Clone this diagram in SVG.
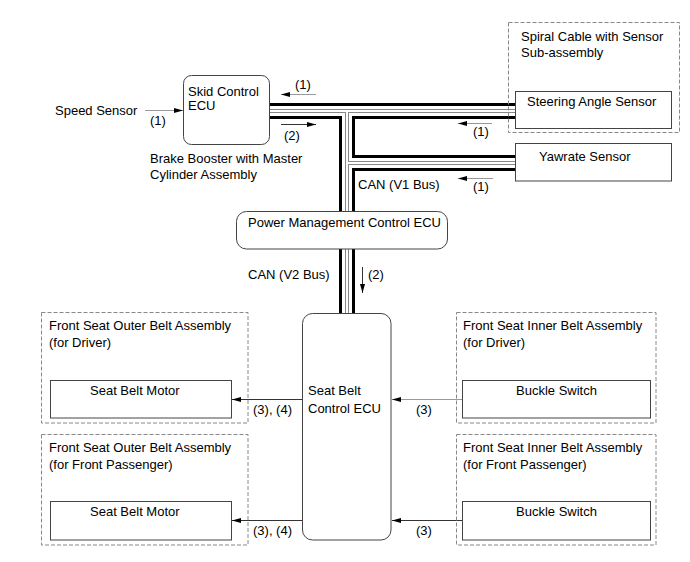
<svg xmlns="http://www.w3.org/2000/svg" xmlns:xlink="http://www.w3.org/1999/xlink" width="690" height="562" viewBox="0 0 690 562">
<style>
text{font-family:"Liberation Sans",Arial,sans-serif;font-size:13px;fill:#000}
.box{fill:#fff;stroke:#444;stroke-width:1}
.dash{fill:none;stroke:#888;stroke-width:1;stroke-dasharray:4 2}
.arL{stroke:#999;stroke-width:1;fill:none;marker-end:url(#ah)}
.arD{stroke:#333;stroke-width:1;fill:none;marker-end:url(#ah)}
</style>
<defs>
<marker id="ah" markerUnits="userSpaceOnUse" viewBox="0 0 9 6" refX="9" refY="3" markerWidth="9" markerHeight="6" orient="auto">
<path d="M0,0.5 L9,3 L0,5.5 z" fill="#000"/>
</marker>
<path id="bus" d="M270,111 H515 M347,111 V313 M347,163 H515" fill="none"/>
</defs>
<rect width="690" height="562" fill="#fff"/>
<g id="connectors">
<use xlink:href="#bus" stroke="#000" stroke-width="16"/>
<use xlink:href="#bus" stroke="#fff" stroke-width="10"/>
<use xlink:href="#bus" stroke="#888" stroke-width="4"/>
<use xlink:href="#bus" stroke="#fff" stroke-width="2"/>
<line class="arL" x1="145" y1="110.5" x2="183" y2="110.5"/>
<line class="arL" x1="316" y1="94.5" x2="281" y2="94.5"/>
<line class="arD" x1="281" y1="124.5" x2="316" y2="124.5"/>
<line class="arL" x1="492" y1="123.5" x2="458" y2="123.5"/>
<line class="arL" x1="493" y1="178.5" x2="458" y2="178.5"/>
<line class="arD" x1="362.5" y1="267" x2="362.5" y2="293"/>
<line class="arD" x1="302" y1="399.5" x2="232" y2="399.5"/>
<line class="arL" x1="462" y1="399.5" x2="392" y2="399.5"/>
<line class="arD" x1="302" y1="520.5" x2="232" y2="520.5"/>
<line class="arD" x1="462" y1="520.5" x2="392" y2="520.5"/>
<text x="55" y="115">Speed Sensor</text>
<text x="150" y="125">(1)</text>
<text x="295" y="89">(1)</text>
<text x="284" y="140">(2)</text>
<text x="473" y="136">(1)</text>
<text x="358" y="189">CAN (V1 Bus)</text>
<text x="473" y="191">(1)</text>
<text x="248" y="279">CAN (V2 Bus)</text>
<text x="368" y="279">(2)</text>
<text x="253" y="414">(3), (4)</text>
<text x="416" y="414">(3)</text>
<text x="253" y="535">(3), (4)</text>
<text x="416" y="535">(3)</text>
</g>
<g id="skid-ecu">
<rect class="box" x="183.5" y="75.5" width="86" height="69" rx="8"/>
<text x="188" y="96">Skid Control</text>
<text x="188" y="110">ECU</text>
<text x="150" y="163">Brake Booster with Master</text>
<text x="150" y="179">Cylinder Assembly</text>
</g>
<g id="spiral-cable">
<rect class="dash" x="508.5" y="22.5" width="171" height="110"/>
<text x="521" y="41">Spiral Cable with Sensor</text>
<text x="521" y="57">Sub-assembly</text>
</g>
<g id="steering-angle-sensor">
<rect class="box" x="515.5" y="91.5" width="156" height="37"/>
<text x="527" y="106">Steering Angle Sensor</text>
</g>
<g id="yawrate-sensor">
<rect class="box" x="515.5" y="143.5" width="156" height="37.5"/>
<text x="539" y="161">Yawrate Sensor</text>
</g>
<g id="power-management-ecu">
<rect class="box" x="236.5" y="211.5" width="211" height="37.5" rx="10"/>
<text x="248" y="227">Power Management Control ECU</text>
</g>
<g id="seat-belt-ecu">
<rect class="box" x="302.5" y="313.5" width="88.5" height="226.5" rx="10"/>
<text x="308" y="395">Seat Belt</text>
<text x="308" y="413">Control ECU</text>
</g>
<g id="outer-driver">
<rect class="dash" x="41.5" y="312.5" width="206.5" height="110.5"/>
<text x="49" y="330">Front Seat Outer Belt Assembly</text>
<text x="49" y="347">(for Driver)</text>
<rect class="box" x="50.5" y="380.5" width="181" height="37.5"/>
<text x="90" y="395">Seat Belt Motor</text>
</g>
<g id="inner-driver">
<rect class="dash" x="456.5" y="312.5" width="199.5" height="110.5"/>
<text x="463" y="330">Front Seat Inner Belt Assembly</text>
<text x="463" y="347">(for Driver)</text>
<rect class="box" x="462.5" y="380.5" width="188" height="37.5"/>
<text x="516" y="395">Buckle Switch</text>
</g>
<g id="outer-passenger">
<rect class="dash" x="41.5" y="434.5" width="206.5" height="110.5"/>
<text x="49" y="452">Front Seat Outer Belt Assembly</text>
<text x="49" y="469">(for Front Passenger)</text>
<rect class="box" x="50.5" y="501.5" width="181" height="38.5"/>
<text x="90" y="516">Seat Belt Motor</text>
</g>
<g id="inner-passenger">
<rect class="dash" x="456.5" y="434.5" width="199.5" height="110.5"/>
<text x="463" y="452">Front Seat Inner Belt Assembly</text>
<text x="463" y="469">(for Front Passenger)</text>
<rect class="box" x="462.5" y="501.5" width="188" height="38.5"/>
<text x="516" y="516">Buckle Switch</text>
</g>
</svg>
